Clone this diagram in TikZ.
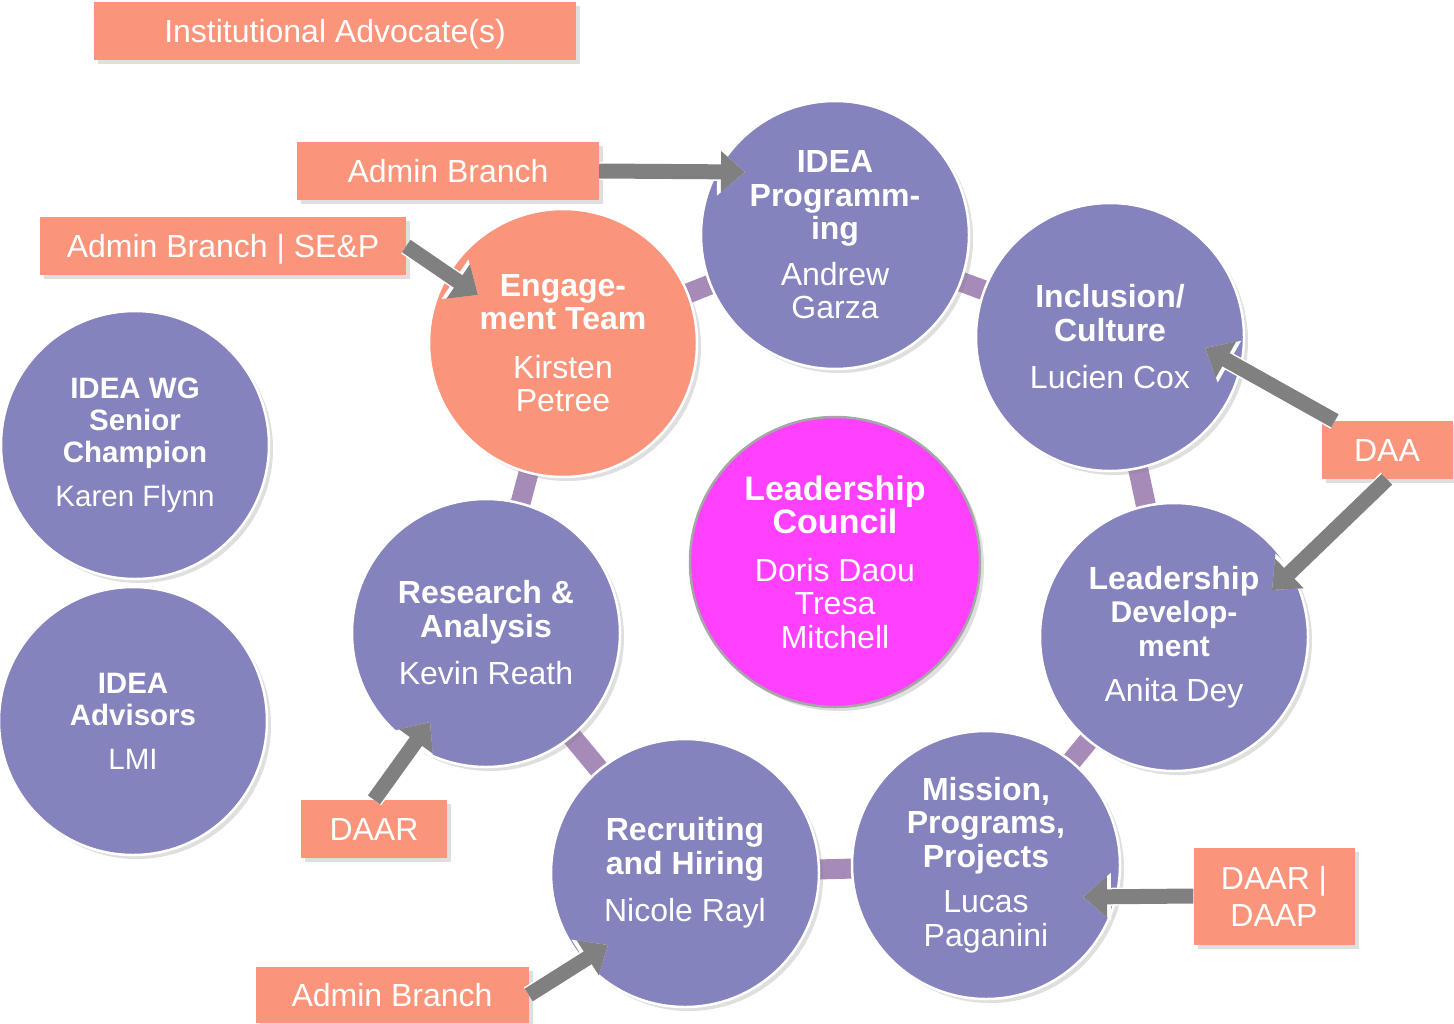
\documentclass[tikz,border=0pt]{standalone}
\usepackage{fontspec}
\setmainfont{Liberation Sans}
\usetikzlibrary{arrows.meta,shadows,backgrounds}
\definecolor{teampurple}{RGB}{133,131,189}
\definecolor{boxsalmon}{RGB}{250,148,122}
\definecolor{ringmauve}{RGB}{166,139,185}
\definecolor{councilpink}{RGB}{255,64,255}
\definecolor{arrowgray}{RGB}{128,128,128}
\tikzset{
  team/.style={circle,fill=teampurple,draw=white,line width=2.5pt,minimum size=268pt,inner sep=0pt,
    text=white,align=center,font=\fontsize{32}{33.5}\selectfont,
    drop shadow={shadow xshift=4pt,shadow yshift=-4pt,opacity=.25}},
  smallteam/.style={team,font=\fontsize{29.5}{32}\selectfont},
  advocate/.style={rectangle,fill=boxsalmon,minimum height=58pt,inner sep=0pt,text=white,align=center,
    font=\fontsize{32}{37}\selectfont,drop shadow={shadow xshift=4pt,shadow yshift=-4pt,opacity=.25}},
  oneline/.style={text height=23pt,text depth=0pt},
  blockarrow/.style={arrowgray,line width=15pt,-{Triangle[width=40pt,length=24pt]},
    preaction={draw=white,line width=18pt,-{Triangle[width=46pt,length=28pt]}}},
  ring/.style={ringmauve,line width=20pt}
}
\begin{document}
\begin{tikzpicture}[x=1pt,y=-1pt]
\useasboundingbox(0,0)rectangle(1454,1023);
%ring of teams
\node[team,fill=boxsalmon](eng)at(563,343){\textbf{Engage-}\\\textbf{ment Team}\\[15pt]Kirsten\\Petree};
\node[team](prog)at(835,235){\textbf{IDEA}\\\textbf{Programm-}\\\textbf{ing}\\[12pt]Andrew\\Garza};
\node[team](incl)at(1110,337){\textbf{Inclusion/}\\\textbf{Culture}\\[14pt]Lucien Cox};
\node[team](ldev)at(1174,637){\textbf{Leadership}\\\fontsize{30}{31}\selectfont\textbf{Develop-}\\\fontsize{30}{31}\selectfont\textbf{ment}\\[12pt]Anita Dey};
\node[team](miss)at(986,865){\textbf{Mission,}\\\textbf{Programs,}\\\textbf{Projects}\\[12pt]Lucas\\Paganini};
\node[team](recr)at(685,873){\textbf{Recruiting}\\\textbf{and Hiring}\\[14pt]Nicole Rayl};
\node[team](rese)at(486,633){\textbf{Research \&}\\\textbf{Analysis}\\[14pt]Kevin Reath};
\begin{scope}[on background layer]
\foreach \a/\b in {eng/prog,prog/incl,incl/ldev,ldev/miss,miss/recr,recr/rese,rese/eng}{
\draw[ring](\a.center)--(\b.center);
}
\end{scope}
%council
\node[team,fill=councilpink,draw=gray!70,minimum size=290pt](council)at(835,562){\fontsize{34}{34}\selectfont\textbf{Leadership}\\\fontsize{34}{34}\selectfont\textbf{Council}\\[14pt]Doris Daou\\Tresa\\Mitchell};
%side circles
\node[smallteam](champ)at(135,445){\textbf{IDEA WG}\\\textbf{Senior}\\\textbf{Champion}\\[12pt]Karen Flynn};
\node[smallteam](advis)at(133,721){\textbf{IDEA}\\\textbf{Advisors}\\[12pt]LMI};
%advocates
\node[advocate,oneline,minimum width=482pt](inst)at(335,31){Institutional Advocate(s)};
\node[advocate,oneline,minimum width=302pt](admtop)at(448,171){Admin Branch};
\node[advocate,oneline,minimum width=366pt](admsep)at(223,246){Admin Branch | SE\&P};
\node[advocate,oneline,minimum width=131pt](daa)at(1387,450){DAA};
\node[advocate,oneline,minimum width=146pt](daar)at(374,829){DAAR};
\node[advocate,minimum width=161pt,minimum height=97pt](daap)at(1274,896){DAAR |\\DAAP};
\node[advocate,oneline,minimum width=273pt,minimum height=56pt](admbot)at(392,995){Admin Branch};
%arrows
\coordinate(tipprog)at(745,172);
\coordinate(tipeng)at(478,295);
\coordinate(tipincl)at(1205,348);
\coordinate(tipldev)at(1272,590);
\coordinate(tipmiss)at(1083,897);
\coordinate(tiprese)at(430,722);
\coordinate(tiprecr)at(608,945);
\draw[blockarrow](admtop.east)--(tipprog);
\draw[blockarrow](admsep.east)--(tipeng);
\draw[blockarrow](daa)--(tipincl);
\draw[blockarrow](daa.south)--(tipldev);
\draw[blockarrow](daap.west)--(tipmiss);
\draw[blockarrow](daar.north)--(tiprese);
\draw[blockarrow](admbot.east)--(tiprecr);
\end{tikzpicture}
\end{document}
